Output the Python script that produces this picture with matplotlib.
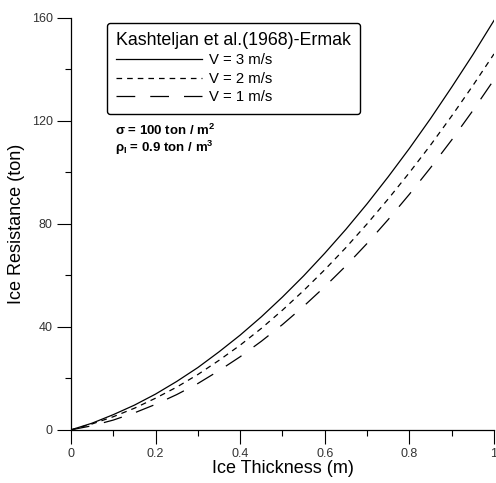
import numpy as np
import matplotlib.pyplot as plt
from matplotlib.ticker import MultipleLocator, FuncFormatter

plt.rcParams['font.family'] = ['Liberation Sans', 'DejaVu Sans']
plt.rcParams['mathtext.fontset'] = 'custom'
plt.rcParams['mathtext.rm'] = 'Liberation Sans'
plt.rcParams['mathtext.bf'] = 'Liberation Sans:bold'

#ice thickness (m)
thickness = [0.0, 0.05, 0.1, 0.15, 0.2, 0.25, 0.3, 0.35, 0.4, 0.45, 0.5,
             0.55, 0.6, 0.65, 0.7, 0.75, 0.8, 0.85, 0.9, 0.95, 1.0]

#ice resistance (ton) for each ship speed
res_v3 = [0.0, 2.6, 5.9, 9.6, 13.9, 18.8, 24.2, 30.3, 36.8, 43.9, 51.6,
          59.8, 68.6, 77.9, 87.8, 98.3, 109.3, 120.9, 133.1, 145.7, 159.0]
res_v2 = [0.0, 2.3, 5.1, 8.4, 12.3, 16.6, 21.5, 27.0, 32.9, 39.4, 46.5,
          54.1, 62.2, 70.8, 80.0, 89.7, 99.9, 110.6, 121.9, 133.7, 146.0]
res_v1 = [0.0, 1.6, 3.8, 6.6, 9.9, 13.7, 18.0, 23.0, 28.4, 34.4, 40.9,
          48.0, 55.6, 63.7, 72.4, 81.7, 91.5, 101.8, 112.6, 124.0, 136.0]

labels = ['V = 3 m/s', 'V = 2 m/s', 'V = 1 m/s']
legend_title = 'Kashteljan et al.(1968)-Ermak'

fig = plt.figure(figsize=(4.96, 4.83), dpi=100)
ax = fig.add_axes([0.143, 0.110, 0.853, 0.853])

ax.plot(thickness, res_v3, color='black', lw=0.9, label=labels[0])
ax.plot(thickness, res_v2, color='black', lw=0.9, linestyle=(0, (4.5, 4.0)), label=labels[1])
ax.plot(thickness, res_v1, color='black', lw=0.9, linestyle=(0, (15.0, 12.0)), label=labels[2])

ax.set_xlim(0, 1)
ax.set_ylim(0, 160)

#only left and bottom axes
ax.spines['top'].set_visible(False)
ax.spines['right'].set_visible(False)
ax.spines['left'].set_linewidth(0.9)
ax.spines['bottom'].set_linewidth(0.9)

ax.xaxis.set_major_locator(MultipleLocator(0.2))
ax.xaxis.set_minor_locator(MultipleLocator(0.1))
ax.yaxis.set_major_locator(MultipleLocator(40))
ax.yaxis.set_minor_locator(MultipleLocator(20))
ax.xaxis.set_major_formatter(FuncFormatter(lambda v, p: '{:g}'.format(round(v, 2))))

ax.tick_params(which='major', direction='out', length=10, width=0.8,
               labelsize=9, pad=3, labelcolor='#333333')
ax.tick_params(which='minor', direction='out', length=4.5, width=0.8)

ax.set_xlabel('Ice Thickness (m)', fontsize=13, labelpad=0)
ax.set_ylabel('Ice Resistance (ton)', fontsize=13, labelpad=5)

leg = ax.legend(loc='upper left', bbox_to_anchor=(0.085, 0.988), borderaxespad=0,
                title=legend_title, title_fontsize=12.8, fontsize=10.7,
                handlelength=5.8, handletextpad=0.45, labelspacing=0.3,
                borderpad=0.62, frameon=True, fancybox=True, framealpha=1)
leg._legend_box.align = 'left'
leg.get_frame().set_edgecolor('black')
leg.get_frame().set_linewidth(1.0)

#material properties
ax.text(0.104, 0.726, r'σ = 100 ton / m$^{\mathbf{2}}$', transform=ax.transAxes,
        fontsize=9.5, fontweight='bold', va='center', ha='left')
ax.text(0.104, 0.684, r'ρ$_{\mathbf{I}}$ = 0.9 ton / m$^{\mathbf{3}}$', transform=ax.transAxes,
        fontsize=9.5, fontweight='bold', va='center', ha='left')

fig.savefig('out.png', dpi=100)
